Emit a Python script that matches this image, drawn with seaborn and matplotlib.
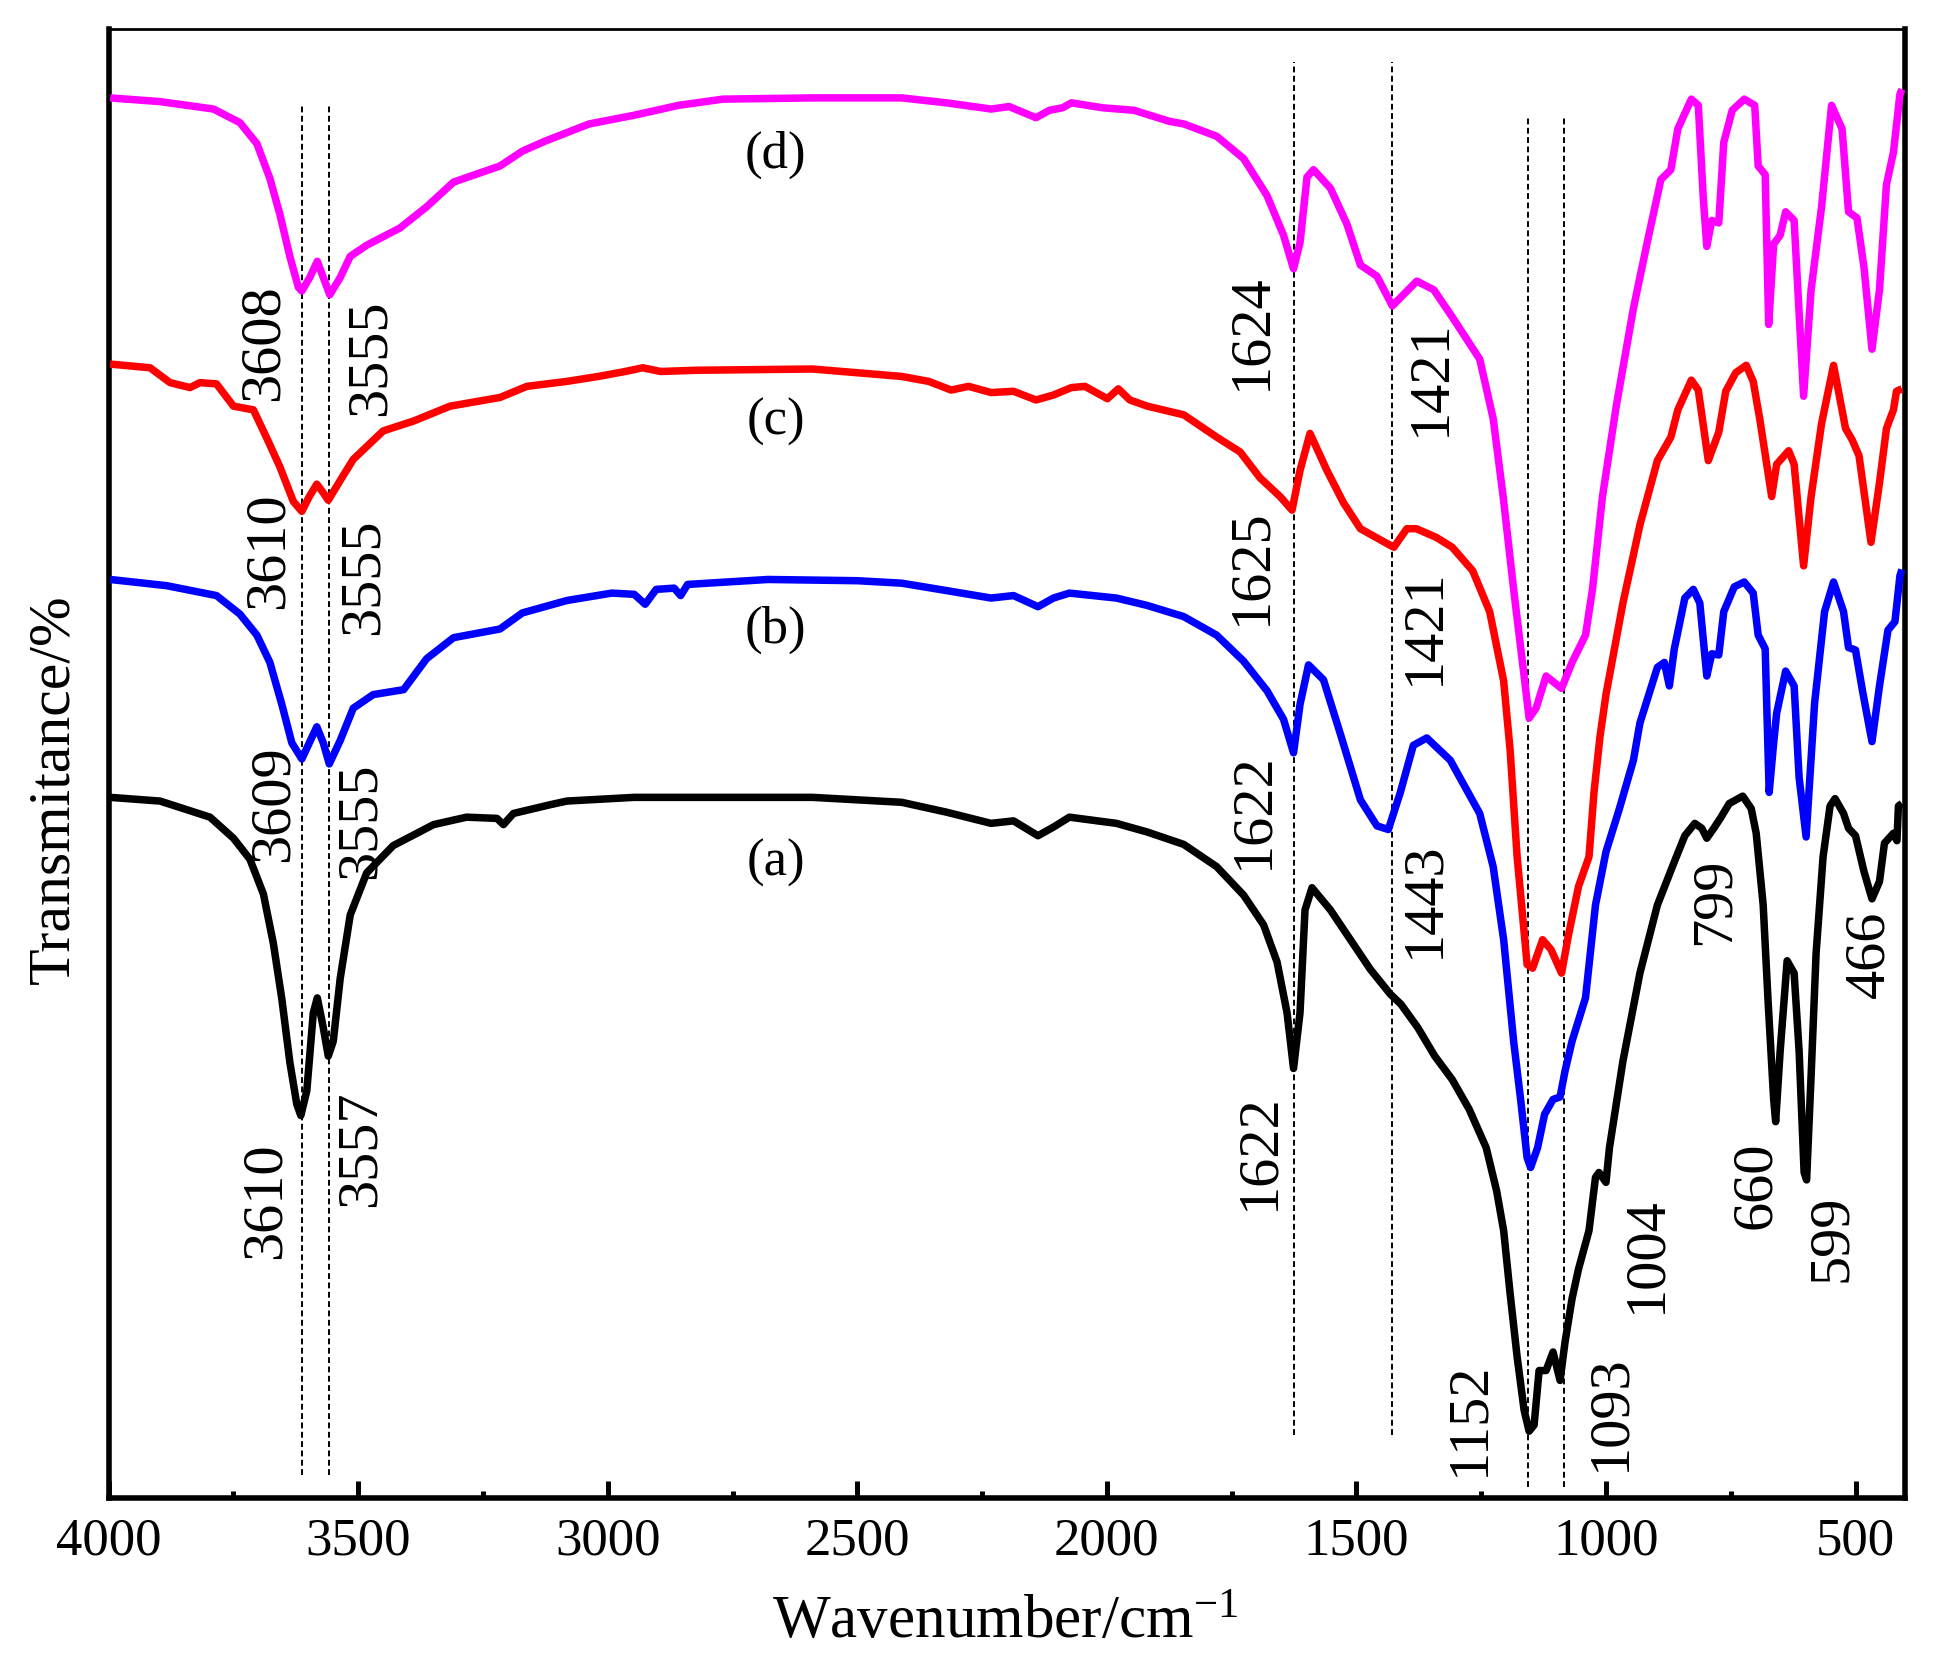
import matplotlib
matplotlib.use('Agg')
import matplotlib.pyplot as plt
import numpy as np
import pandas as pd
import seaborn as sns
from matplotlib.ticker import MultipleLocator

sns.set_theme(style='white')
plt.rcParams['font.family'] = ['Liberation Serif', 'DejaVu Serif']
plt.rcParams['mathtext.fontset'] = 'custom'
plt.rcParams['mathtext.rm'] = 'Liberation Serif'
plt.rcParams['mathtext.it'] = 'Liberation Serif:italic'
plt.rcParams['text.color'] = 'black'
plt.rcParams['axes.labelcolor'] = 'black'
plt.rcParams['xtick.color'] = 'black'
plt.rcParams['ytick.color'] = 'black'

# ---------------- data (wavenumber / cm-1, stacked transmittance, arbitrary units) ----------------
wn_a = [3997, 3897, 3797, 3750, 3717, 3690, 3670, 3653, 3637, 3623, 3615, 3603, 3590, 3582, 3570, 3560,
        3550, 3536, 3516, 3483, 3430, 3349, 3283, 3222, 3209, 3189, 3116, 3082, 2947, 2590, 2411, 2321,
        2232, 2187, 2138, 2107, 2075, 1981, 1919, 1846, 1780, 1726, 1686, 1659, 1639, 1626, 1613, 1603,
        1589, 1552, 1512, 1472, 1432, 1411, 1377, 1343, 1308, 1274, 1240, 1219, 1205, 1192, 1178, 1164,
        1154, 1144, 1134, 1120, 1106, 1092, 1082, 1068, 1055, 1034, 1021, 1014, 1000, 993, 966, 932,
        897, 863, 842, 822, 808, 798, 784, 771, 753, 726, 709, 699, 685, 675, 664, 660, 651, 637, 623,
        613, 603, 598, 589, 579, 565, 551, 541, 524, 514, 500, 483, 467, 452, 442, 424, 417, 414, 407]
t_a = [56.6, 56.3, 55.0, 53.3, 51.6, 48.8, 44.8, 40.3, 35.2, 31.8, 30.9, 32.9, 39.2, 40.4, 38.0, 35.7,
       36.9, 42.0, 47.1, 50.5, 52.7, 54.4, 55.0, 54.9, 54.4, 55.3, 56.0, 56.3, 56.6, 56.6, 56.2, 55.4,
       54.5, 54.7, 53.5, 54.2, 55.0, 54.5, 53.8, 52.8, 51.0, 48.7, 46.3, 43.3, 39.2, 34.7, 39.2, 47.5,
       49.3, 47.5, 45.1, 42.7, 40.7, 39.9, 38.0, 35.7, 33.8, 31.4, 28.3, 24.8, 21.6, 16.5, 11.4, 7.1,
       5.4, 5.9, 10.3, 10.3, 11.8, 9.5, 12.6, 16.1, 18.5, 21.6, 25.9, 26.3, 25.5, 28.3, 35.3, 42.4,
       47.9, 51.4, 53.5, 54.5, 54.1, 53.3, 54.1, 54.9, 56.1, 56.7, 55.7, 53.7, 47.9, 40.0, 32.2, 30.4,
       36.1, 43.4, 42.4, 36.1, 26.3, 25.7, 34.1, 44.0, 51.8, 55.9, 56.5, 55.3, 54.1, 53.5, 50.6, 48.4,
       49.8, 52.9, 53.7, 53.1, 55.9, 56.1]

wn_b = [3997, 3884, 3784, 3737, 3703, 3677, 3653, 3633, 3613, 3598, 3583, 3570, 3558, 3536, 3510, 3470,
        3409, 3363, 3309, 3216, 3171, 3082, 2992, 2947, 2925, 2903, 2867, 2854, 2840, 2679, 2500, 2411,
        2321, 2232, 2187, 2138, 2107, 2075, 1981, 1919, 1846, 1780, 1726, 1679, 1646, 1626, 1613, 1596,
        1566, 1532, 1492, 1459, 1436, 1412, 1386, 1359, 1312, 1253, 1226, 1205, 1185, 1171, 1158, 1151,
        1137, 1123, 1106, 1092, 1082, 1068, 1041, 1021, 1000, 973, 945, 932, 897, 883, 873, 863, 842,
        825, 812, 798, 788, 774, 764, 743, 723, 705, 695, 681, 673, 664, 658, 640, 623, 613, 599, 582,
        562, 544, 524, 514, 500, 486, 467, 452, 435, 421, 411, 407]
t_b = [74.2, 73.7, 72.9, 71.4, 69.7, 67.5, 64.1, 61.0, 59.7, 61.0, 62.3, 61.0, 59.3, 61.2, 63.8, 64.9,
       65.3, 67.8, 69.5, 70.2, 71.5, 72.5, 73.1, 73.0, 72.2, 73.4, 73.5, 72.9, 73.8, 74.2, 74.1, 73.9,
       73.3, 72.7, 72.9, 72.0, 72.7, 73.1, 72.7, 72.1, 71.2, 69.7, 67.6, 65.2, 62.9, 60.2, 64.1, 67.3,
       66.1, 61.7, 56.4, 54.3, 54.0, 57.0, 60.8, 61.4, 59.6, 55.3, 51.0, 45.1, 36.9, 32.2, 27.5, 26.7,
       28.3, 31.0, 32.2, 32.4, 34.5, 36.9, 40.4, 47.9, 52.2, 55.7, 59.6, 62.6, 67.1, 67.5, 65.6, 68.6,
       72.7, 73.4, 72.3, 66.4, 68.2, 68.1, 71.6, 73.6, 74.0, 73.1, 69.7, 68.6, 57.0, 61.0, 63.4, 66.8,
       65.6, 58.2, 53.4, 64.2, 71.6, 74.0, 71.6, 68.7, 68.5, 65.2, 61.1, 65.6, 70.1, 70.8, 74.5, 75.0]

wn_c = [3997, 3917, 3877, 3837, 3817, 3784, 3750, 3710, 3683, 3657, 3630, 3613, 3598, 3583, 3570, 3560,
        3536, 3510, 3450, 3389, 3316, 3216, 3162, 3082, 3019, 2965, 2930, 2894, 2822, 2590, 2411, 2357,
        2312, 2277, 2232, 2187, 2142, 2107, 2071, 2044, 1999, 1977, 1954, 1919, 1846, 1780, 1733, 1693,
        1653, 1629, 1613, 1593, 1559, 1526, 1492, 1452, 1425, 1399, 1380, 1340, 1308, 1267, 1233, 1205,
        1192, 1178, 1158, 1147, 1127, 1110, 1089, 1075, 1055, 1034, 1024, 1012, 1000, 966, 932, 897, 870,
        856, 829, 815, 795, 774, 760, 740, 719, 705, 692, 668, 658, 634, 623, 604, 589, 568, 544, 520,
        507, 493, 469, 452, 438, 424, 418, 407]
t_c = [91.6, 91.3, 90.1, 89.7, 90.1, 90.0, 88.2, 87.9, 85.6, 83.3, 80.5, 79.7, 80.9, 81.9, 81.2, 80.6,
       82.2, 83.9, 86.2, 87.0, 88.2, 88.9, 89.8, 90.2, 90.6, 91.0, 91.3, 91.0, 91.1, 91.2, 90.6, 90.2,
       89.5, 89.8, 89.3, 89.4, 88.7, 89.1, 89.7, 89.8, 88.8, 89.6, 88.7, 88.2, 87.5, 85.7, 84.5, 82.4,
       80.9, 79.8, 83.0, 86.0, 83.0, 80.4, 78.3, 77.4, 76.8, 78.3, 78.3, 77.6, 76.8, 74.9, 71.6, 66.0,
       60.4, 51.8, 43.1, 42.8, 45.1, 44.3, 42.4, 45.5, 49.4, 51.8, 57.0, 61.5, 64.9, 72.3, 78.6, 83.8,
       85.7, 87.9, 90.3, 89.5, 83.8, 86.1, 89.4, 90.9, 91.5, 90.2, 87.2, 80.9, 83.5, 84.6, 83.5, 75.3,
       80.9, 86.8, 91.5, 86.4, 85.5, 84.2, 77.2, 82.0, 86.4, 87.9, 89.4, 89.6]

wn_d = [3997, 3897, 3790, 3737, 3703, 3677, 3657, 3637, 3620, 3613, 3597, 3582, 3570, 3557, 3536, 3516,
        3483, 3416, 3363, 3309, 3216, 3171, 3126, 3037, 2947, 2858, 2769, 2590, 2411, 2321, 2232, 2196,
        2142, 2115, 2089, 2071, 2008, 1946, 1874, 1846, 1780, 1726, 1679, 1646, 1626, 1613, 1599, 1586,
        1552, 1519, 1492, 1459, 1428, 1406, 1379, 1345, 1308, 1253, 1226, 1206, 1185, 1164, 1154, 1140,
        1120, 1089, 1068, 1041, 1027, 1007, 979, 945, 918, 890, 870, 856, 829, 815, 805, 798, 788, 774,
        764, 747, 723, 702, 695, 681, 674, 664, 651, 640, 623, 604, 589, 568, 548, 527, 514, 497, 483,
        467, 452, 438, 424, 411, 407]
t_d = [113.1, 112.8, 112.2, 111.1, 109.4, 106.6, 103.7, 100.3, 97.8, 97.5, 98.6, 99.9, 98.6, 97.2, 98.6,
       100.3, 101.2, 102.6, 104.3, 106.3, 107.6, 108.8, 109.6, 111.0, 111.7, 112.5, 113.0, 113.1, 113.1,
       112.7, 112.2, 112.4, 111.5, 112.1, 112.3, 112.7, 112.3, 112.1, 111.2, 111.0, 110.0, 108.2, 105.2,
       102.0, 99.3, 101.4, 106.7, 107.3, 105.8, 102.9, 99.6, 98.7, 96.3, 97.2, 98.3, 97.6, 95.4, 92.0,
       87.2, 80.9, 73.4, 66.4, 63.0, 63.8, 66.4, 65.4, 67.5, 69.7, 73.4, 80.9, 88.3, 96.1, 101.3, 106.5,
       107.3, 110.6, 113.0, 112.5, 105.0, 101.1, 103.2, 103.0, 109.5, 112.1, 113.0, 112.5, 107.6, 106.9,
       94.8, 101.3, 102.0, 103.9, 103.2, 89.0, 97.6, 104.3, 112.5, 110.6, 103.9, 103.4, 99.4, 92.8, 97.6,
       106.1, 108.7, 113.4, 113.8]

sample_names = ['(a)', '(b)', '(c)', '(d)']
sample_colors = ['#000000', '#0000FF', '#FF0000', '#FF00FF']
name_x = [2664, 2664, 2664, 2664]
name_y = [51.3, 70.1, 86.9, 108.5]

peak_text = ['3610', '3557', '3609', '3555', '3610', '3555', '3608', '3555',
             '1622', '1622', '1625', '1624', '1421', '1421', '1443',
             '1152', '1093', '1004', '799', '660', '599', '466']
peak_x = [3686, 3495, 3670, 3496, 3680, 3490, 3689, 3476,
          1694, 1706, 1711, 1711, 1350, 1362, 1363,
          1273, 992, 920, 782, 699, 547, 473]
peak_y = [24.0, 28.2, 56.1, 54.7, 76.5, 74.4, 93.3, 92.1,
          28.0, 55.5, 75.2, 94.2, 90.5, 70.4, 48.3,
          6.4, 6.9, 19.7, 48.2, 25.3, 21.0, 43.9]

guide_x = [3612, 3559, 1626, 1428, 1157, 1085]
guide_top = [112.5, 112.5, 116.0, 116.0, 111.7, 111.7]
guide_bottom = [1.9, 1.9, 5.1, 5.1, 0.9, 0.9]

# ---------------- figure ----------------
fig = plt.figure(figsize=(19.37, 16.61), dpi=100)
ax = fig.add_axes([0.0561, 0.0981, 0.9837 - 0.0561, 0.9828 - 0.0981])

frames = []
for nm, w, t in zip(sample_names, [wn_a, wn_b, wn_c, wn_d], [t_a, t_b, t_c, t_d]):
    frames.append(pd.DataFrame({'wn': w, 't': t, 'sample': nm}))
df = pd.concat(frames, ignore_index=True)

ax.vlines(guide_x, guide_bottom, guide_top, colors='black', linestyles=(0, (3.0, 1.8)),
          linewidth=1.4, zorder=1)

sns.lineplot(data=df, x='wn', y='t', hue='sample', palette=dict(zip(sample_names, sample_colors)),
             estimator=None, sort=False, linewidth=5.4, legend=False, ax=ax, zorder=3)
for ln in ax.get_lines():
    ln.set_solid_joinstyle('round')
    ln.set_solid_capstyle('butt')

for txt, x, y in zip(peak_text, peak_x, peak_y):
    ax.text(x, y, txt, rotation=90, ha='center', va='center', fontsize=42, color='black', zorder=4)
for txt, x, y in zip(sample_names, name_x, name_y):
    ax.text(x, y, txt, ha='center', va='center', fontsize=38, color='black', zorder=4)

ax.set_xlim(4000, 400)
ax.set_ylim(0, 118.7)
ax.xaxis.set_major_locator(MultipleLocator(500))
ax.xaxis.set_minor_locator(MultipleLocator(250))
ax.tick_params(axis='x', which='major', direction='in', length=12, width=3.6, labelsize=38,
               pad=14, bottom=True, top=False, colors='black', labelcolor='black')
ax.tick_params(axis='x', which='minor', direction='in', length=5, width=3.6, bottom=True, top=False,
               colors='black')
ax.tick_params(axis='y', which='both', left=False, right=False, labelleft=False)
ax.set_xlabel('')
ax.set_ylabel('')

for side in ['left', 'bottom', 'right']:
    ax.spines[side].set_linewidth(4.0)
    ax.spines[side].set_color('black')
ax.spines['top'].set_linewidth(2.0)
ax.spines['top'].set_color('black')
for s in ax.spines.values():
    s.set_visible(True)

fig.text(0.519, 0.014, 'Wavenumber/cm$^{\\mathrm{-1}}$', ha='center', va='baseline', fontsize=44,
         color='black')
fig.text(0.028, 0.525, 'Transmitance/%', ha='center', va='center', rotation=90, fontsize=43,
         color='black')

fig.savefig('out.png', dpi=100, facecolor='white')
